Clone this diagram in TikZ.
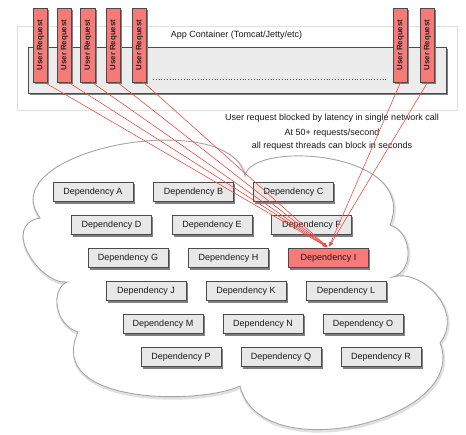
\documentclass[tikz,border=0pt]{standalone}
\usepackage{fontspec}
\setmainfont{Liberation Sans}
\usetikzlibrary{arrows.meta}
\definecolor{reqred}{RGB}{247,122,120}
\definecolor{linered}{RGB}{236,78,68}
\definecolor{boxgray}{RGB}{232,232,232}
\definecolor{edgegray}{RGB}{75,75,75}
\definecolor{contgray}{RGB}{236,236,236}
\tikzset{
  shadowfill/.style={fill=black!50},
  reqbox/.style={draw=edgegray,fill=reqred,line width=0.8pt,minimum width=14.5pt,minimum height=74pt,
     inner sep=0pt,font=\fontsize{7.8}{9}\selectfont\bfseries,text=black!85},
  depbox/.style={draw=edgegray,fill=boxgray,line width=0.8pt,minimum width=80pt,minimum height=19.5pt,
     inner sep=0pt,font=\fontsize{9}{11}\selectfont,text=black!90},
  hotbox/.style={depbox,fill=reqred},
  note/.style={font=\fontsize{9}{11}\selectfont,text=black!90,inner sep=0pt},
  req/.style={draw=linered,line width=0.6pt,-{Latex[length=5pt,width=3.5pt]},shorten >=1pt}
}
\newcommand{\ureq}{\rotatebox{90}{User Request}}
% shadow: centre x, centre y, width, height
\newcommand{\boxshadow}[4]{\fill[shadowfill] ({#1-#3/2+1.6},{#2-#4/2+2.2}) rectangle ({#1+#3/2+1.6},{#2+#4/2+2.2});}
\begin{document}
\begin{tikzpicture}[x=1pt,y=-1pt]
\useasboundingbox (0,0) rectangle (466,434);
% outer container
\node[draw=black!12,fill=white,line width=0.6pt,minimum width=440pt,minimum height=84pt,inner sep=0pt] (outer) at (237,68) {};
\node[note] (applabel) at (236.5,35) {App Container (Tomcat/Jetty/etc)};
% inner container
\boxshadow{237}{70}{418}{46}
\node[draw=edgegray,fill=contgray,line width=1pt,minimum width=418pt,minimum height=46pt,inner sep=0pt] (inner) at (237,70) {};
\coordinate (dotA) at (153,79);
\coordinate (dotB) at (388,79);
\draw[black!70,line width=0.8pt,dotted] (dotA) -- (dotB);
% user request boxes
\foreach \n/\x in {1/40.5,2/64.5,3/88,4/113.5,5/139.5,6/400.5,7/427.5}{
  \boxshadow{\x}{45}{14.5}{74}
  \node[reqbox] (u\n) at (\x,45) {\ureq};
}
% texts
\node[note] (t1) at (332,118) {User request blocked by latency in single network call};
\node[note] (t2) at (332,133) {At 50+ requests/second};
\node[note] (t3) at (332,146) {all request threads can block in seconds};
% cloud
\draw[draw=black!35,fill=white,line width=0.9pt,
      preaction={draw=black!12,line width=3pt,transform canvas={xshift=0.8pt,yshift=-1.5pt}}]
  (40,218) .. controls (-10,150) and (230,105) .. (245,176)
  .. controls (250,140) and (420,150) .. (390,225)
  .. controls (412,232) and (415,270) .. (393,277)
  .. controls (420,268) and (465,310) .. (440,343)
  .. controls (470,420) and (260,470) .. (240,386)
  .. controls (200,405) and (45,405) .. (78,332)
  .. controls (55,325) and (50,290) .. (67,282)
  .. controls (40,285) and (0,225) .. (40,218) -- cycle;
% dependencies
\foreach \n/\x/\y in {A/93/192,B/193.5/192,C/293.5/192,D/111.5/225,E/212/225,F/311.5/225,
    G/128/258,H/228.5/258,J/146/291,K/246/291,L/346/291,M/163/324,N/263/324,O/363/324,
    P/181/357,Q/281/357,R/381/357}{
  \boxshadow{\x}{\y}{80}{19.5}
  \node[depbox] (d\n) at (\x,\y) {Dependency \n};
}
\boxshadow{328.5}{258}{80}{19.5}
\node[hotbox] (dI) at (328.5,258) {Dependency I};
% request lines
\foreach \u in {u1,u2,u3,u4,u5}{
  \draw[req] ([xshift=4pt]\u.south) -- (dI.north);
}
\foreach \u in {u6,u7}{
  \draw[req] (\u.south) -- (dI.north);
}
\end{tikzpicture}
\end{document}
